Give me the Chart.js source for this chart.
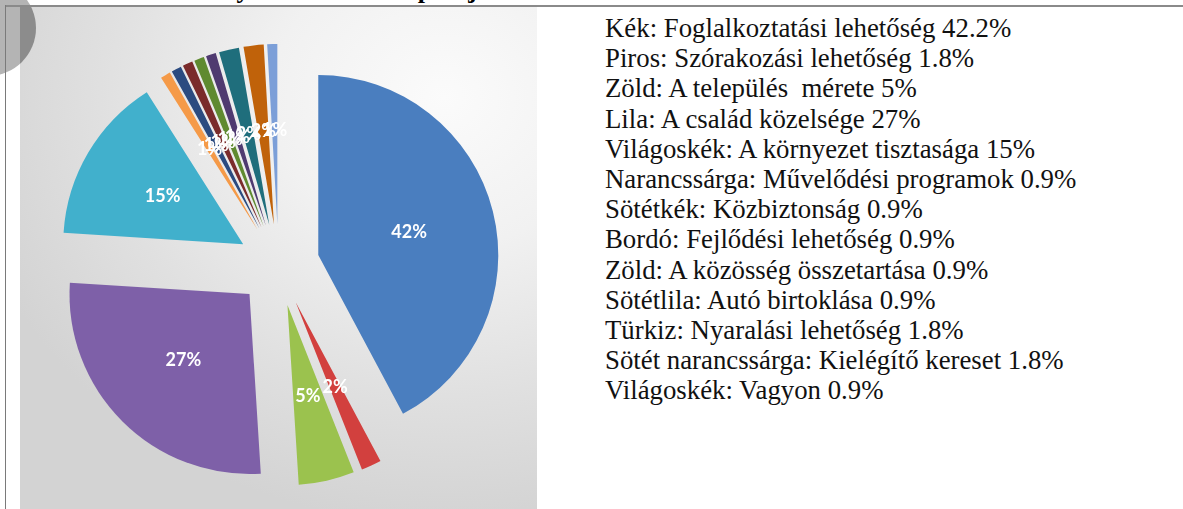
<!DOCTYPE html>
<html>
<head>
<meta charset="utf-8">
<script src="https://cdn.jsdelivr.net/npm/chart.js@4"></script>
<style>
  html, body { margin: 0; padding: 0; background: #fff; }
  body { width: 1183px; height: 509px; position: relative; overflow: hidden; }
  #topline { position: absolute; left: 5px; top: 5px; width: 1178px; height: 2px; background: #8a8a8a; }
  #leftline { position: absolute; left: 5px; top: 5px; width: 1px; height: 504px; background: #7a7a7a; }
  #title { position: absolute; left: 40px; top: 0; height: 5px; overflow: hidden; width: 520px; }
  #title span { position: absolute; left: 0; top: -25px; font: bold 26px/30px "Liberation Serif", serif; white-space: nowrap; }
  #picture { position: absolute; left: 20px; top: 7px; width: 517px; height: 502px; overflow: hidden;
    background: radial-gradient(ellipse 95% 85% at 82% 18%, #fbfbfb 0%, #f1f1f1 35%, #e0e0e0 70%, #d3d3d3 100%); }
  #picture canvas { position: absolute; left: 0; top: 0; }
  .dot { position: absolute; width: 96px; height: 96px; border-radius: 50%; }
  #dotOut { left: -60px; top: -20px; background: #b4b4b4; }
  #dotIn { left: -80px; top: -27px; background: #8c8c8c; }
  #legend { position: absolute; left: 605px; top: 13px; font: 26.8px/30.2px "Liberation Serif", "Times New Roman", serif;
    color: #111; white-space: pre; }
</style>
</head>
<body>
<div id="title"><span>A fiatalok lakóhelyválasztási szempontjai</span></div>
<div class="dot" id="dotOut"></div>
<div id="topline"></div>
<div id="leftline"></div>
<div id="picture">
  <canvas id="pie" width="517" height="502"></canvas>
  <div class="dot" id="dotIn"></div>
</div>
<div id="legend"></div>
<script>
// válaszok, az óramutató járásával egyezően, 12 órától
let colorNames = ['Kék', 'Piros', 'Zöld', 'Lila', 'Világoskék', 'Narancssárga', 'Sötétkék', 'Bordó', 'Zöld', 'Sötétlila', 'Türkiz', 'Sötét narancssárga', 'Világoskék'];
let labels = ['Foglalkoztatási lehetőség', 'Szórakozási lehetőség', 'A település  mérete', 'A család közelsége', 'A környezet tisztasága', 'Művelődési programok', 'Közbiztonság', 'Fejlődési lehetőség', 'A közösség összetartása', 'Autó birtoklása', 'Nyaralási lehetőség', 'Kielégítő kereset', 'Vagyon'];
let values = [42.2, 1.8, 5, 27, 15, 0.9, 0.9, 0.9, 0.9, 0.9, 1.8, 1.8, 0.9];
let colors = ['#4A7EBF', '#D2403E', '#9BC24E', '#7E60A8', '#41B0CC', '#F59A48', '#2B4B80', '#7A2B2B', '#5F8A30', '#4F3A70', '#1F6E7C', '#C0620A', '#7C9FD8'];

// jelmagyarázat a jobb oldalon
document.getElementById('legend').textContent = values.map((v, i) => colorNames[i] + ': ' + labels[i] + ' ' + v + '%').join('\n');

const explode = 41;

// szeletek kihúzása a középponttól
const explodePlugin = {
  id: 'explode',
  beforeDatasetDraw(chart, args) {
    const ctx = chart.ctx;
    args.meta.data.forEach(arc => {
      const mid = (arc.startAngle + arc.endAngle) / 2;
      ctx.save();
      ctx.translate(Math.cos(mid) * explode, Math.sin(mid) * explode);
      arc.draw(ctx, chart.chartArea);
      ctx.restore();
    });
    return false;
  },
  afterDatasetsDraw(chart) {
    const ctx = chart.ctx;
    const meta = chart.getDatasetMeta(0);
    ctx.save();
    ctx.fillStyle = '#fff';
    ctx.font = 'bold 18px Lato, "Open Sans", sans-serif';
    ctx.textAlign = 'center';
    ctx.textBaseline = 'middle';
    meta.data.forEach((arc, i) => {
      const mid = (arc.startAngle + arc.endAngle) / 2;
      const d = explode + arc.outerRadius * 0.52;
      ctx.fillText(Math.round(values[i]) + '%', arc.x + Math.cos(mid) * d, arc.y + Math.sin(mid) * d);
    });
    ctx.restore();
  }
};

new Chart(document.getElementById('pie'), {
  type: 'pie',
  data: {
    labels: labels,
    datasets: [{
      data: values,
      backgroundColor: colors,
      borderWidth: 0,
      radius: 180
    }]
  },
  options: {
    responsive: false,
    animation: false,
    layout: { padding: { top: 14 } },
    plugins: {
      legend: { display: false },
      tooltip: { enabled: false }
    }
  },
  plugins: [explodePlugin]
});
</script>
</body>
</html>
